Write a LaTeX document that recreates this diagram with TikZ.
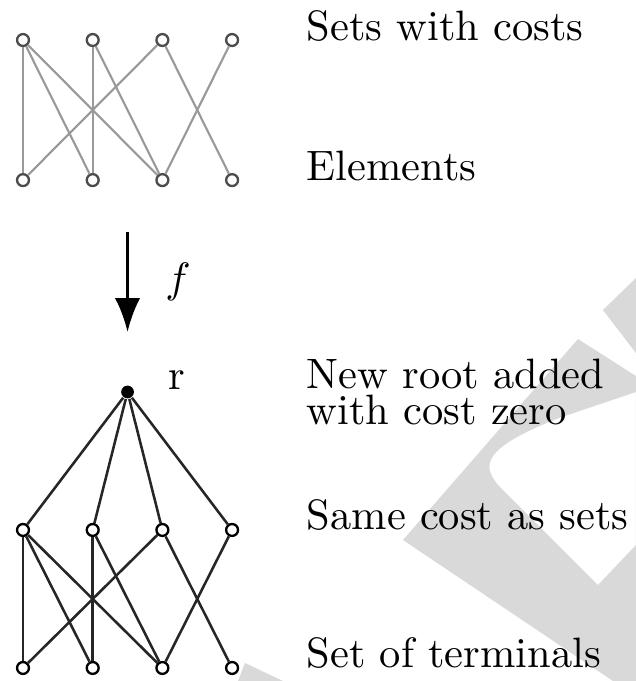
\documentclass[tikz,border=0pt]{standalone}
\usetikzlibrary{arrows.meta}
\tikzset{
  setnode/.style = {
    circle, draw=black!70, fill=white, line width=0.55pt,
    inner sep=0pt, minimum size=2.8pt,
  },
  vertex/.style = {
    circle, draw=black, fill=white, line width=0.55pt,
    inner sep=0pt, minimum size=2.8pt,
  },
  rootnode/.style = {circle, fill=black, inner sep=0pt, minimum size=3pt},
  setedge/.style = {draw=black!40, line width=0.5pt},
  treeedge/.style = {draw=black!85, line width=0.6pt},
  note/.style = {anchor=base west, inner sep=0pt, font=\normalsize},
  mapping/.style = {line width=0.8pt, -{Latex[length=8pt,width=6pt]}},
  watermark/.style = {fill=black!15, draw=none},
}

\begin{document}
\begin{tikzpicture}[x=16.4pt, y=16.4pt]
    \useasboundingbox (-0.330,0.574) rectangle (8.795,-9.197);

    % --- Watermark ---
    \fill[watermark, even odd rule]
      (5.452,-7.174) -- (7.963,-4.290) -- (8.795,-4.821) -- (8.795,-9.197)
      -- (8.465,-9.197) -- cycle
      (8.795,-5.050) -- (7.70,-5.42) .. controls (6.60,-5.85) and (6.55,-6.10) .. (6.85,-6.42)
      -- (8.25,-7.82) -- (8.795,-7.245) -- cycle;
    \fill[watermark] (8.321,-3.874) -- (8.795,-3.415) -- (8.795,-4.491) -- cycle;
    \fill[watermark] (3.185,-8.938) -- (3.730,-9.197) -- (3.085,-9.197) -- cycle;

    % --- Set cover instance ---
    \node[setnode] (s1) at (0,0) {};
    \node[setnode] (s2) at (1,0) {};
    \node[setnode] (s3) at (2,0) {};
    \node[setnode] (s4) at (3,0) {};
    \node[setnode] (e1) at (0,-2.01) {};
    \node[setnode] (e2) at (1,-2.01) {};
    \node[setnode] (e3) at (2,-2.01) {};
    \node[setnode] (e4) at (3,-2.01) {};

    \draw[setedge] (s1) -- (e1);
    \draw[setedge] (s1) -- (e2);
    \draw[setedge] (s1) -- (e3);
    \draw[setedge] (s2) -- (e2);
    \draw[setedge] (s2) -- (e3);
    \draw[setedge] (s3) -- (e1);
    \draw[setedge] (s3) -- (e4);
    \draw[setedge] (s4) -- (e3);

    % --- Steiner tree instance ---
    \node[rootnode] (root) at (1.5,-5.05) {};
    \node[vertex] (m1) at (0,-7.03) {};
    \node[vertex] (m2) at (1,-7.03) {};
    \node[vertex] (m3) at (2,-7.03) {};
    \node[vertex] (m4) at (3,-7.03) {};
    \node[vertex] (t1) at (0,-9.01) {};
    \node[vertex] (t2) at (1,-9.01) {};
    \node[vertex] (t3) at (2,-9.01) {};
    \node[vertex] (t4) at (3,-9.01) {};

    \draw[treeedge] (root) -- (m1);
    \draw[treeedge] (root) -- (m2);
    \draw[treeedge] (root) -- (m3);
    \draw[treeedge] (root) -- (m4);
    \draw[treeedge] (m1) -- (t1);
    \draw[treeedge] (m1) -- (t2);
    \draw[treeedge] (m1) -- (t3);
    \draw[treeedge] (m2) -- (t2);
    \draw[treeedge] (m2) -- (t3);
    \draw[treeedge] (m3) -- (t1);
    \draw[treeedge] (m3) -- (t4);
    \draw[treeedge] (m4) -- (t3);

    % --- Reduction arrow ---
    \coordinate (fstart) at (1.5,-2.75);
    \coordinate (fend)   at (1.5,-4.19);
    \draw[mapping] (fstart) -- node[right=8.5pt, inner sep=0pt] (flabel) {$f$} (fend);
    \node[note] (rlabel) at (2.08,-5.02) {r};

    % --- Notes ---
    \node[note] (setsnote)  at (4.06,0)     {Sets with costs};
    \node[note] (elemnote)  at (4.06,-2.01) {Elements};
    \node[note] (rootnote)  at (4.06,-5.0)  {New root added};
    \node[note] (zeronote)  at (4.06,-5.52) {with cost zero};
    \node[note] (costnote)  at (4.06,-7.03) {Same cost as sets};
    \node[note] (termnote)  at (4.06,-9.01) {Set of terminals};
  \end{tikzpicture}
\end{document}
